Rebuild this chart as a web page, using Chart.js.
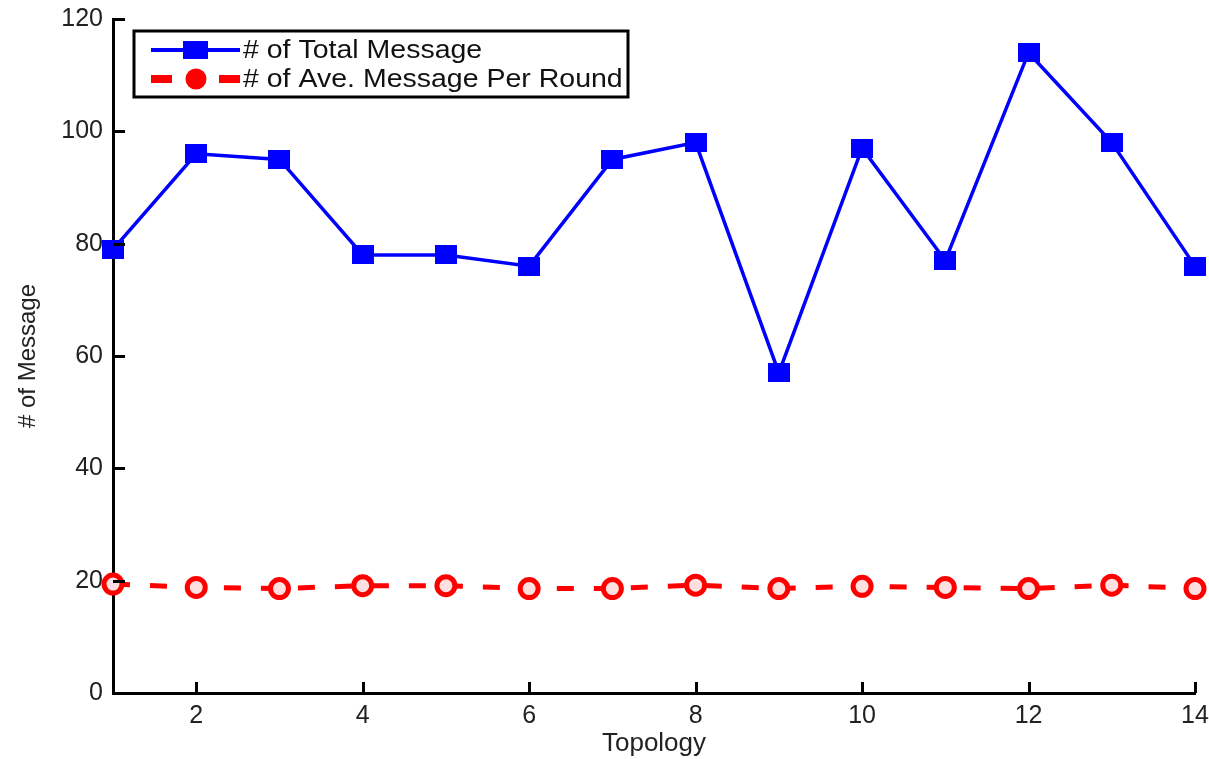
<!DOCTYPE html>
<html>
<head>
<meta charset="utf-8">
<script src="https://cdn.jsdelivr.net/npm/chart.js@4.4.0/dist/chart.umd.min.js"></script>
<style>
  html, body { margin: 0; padding: 0; background: #fff; }
  #wrap { width: 1209px; height: 759px; }
</style>
</head>
<body>
<div id="wrap"><canvas id="chart" width="1209" height="759"></canvas></div>
<script>
// data
const topology = [1, 2, 3, 4, 5, 6, 7, 8, 9, 10, 11, 12, 13, 14];
const totalMsg = [79, 96, 95, 78, 78, 76, 95, 98, 57, 97, 77, 114, 98, 76];
const aveMsg = [19.4, 18.8, 18.6, 19.1, 19.1, 18.6, 18.6, 19.2, 18.6, 19.0, 18.8, 18.6, 19.2, 18.6];
const xTicks = [2, 4, 6, 8, 10, 12, 14];
const yTicks = [0, 20, 40, 60, 80, 100, 120];
const seriesNames = ['# of Total Message', '# of Ave. Message Per Round'];

const FONT = "'Liberation Sans', Arial, sans-serif";

// blue square marker (a bit wider than tall, like the picture)
const sq = document.createElement('canvas');
sq.width = 22; sq.height = 19;
const sctx = sq.getContext('2d');
sctx.fillStyle = '#0000ff';
sctx.fillRect(0, 0, 22, 19);

// inward ticks + legend box
const extras = {
  id: 'extras',
  afterDraw(chart) {
    const ctx = chart.ctx;
    const xs = chart.scales.x, ys = chart.scales.y;
    const a = chart.chartArea;
    ctx.save();
    ctx.strokeStyle = '#000';
    ctx.lineWidth = 3;
    ctx.beginPath();
    yTicks.forEach(v => {
      const py = Math.round(ys.getPixelForValue(v)) + 0.5;
      ctx.moveTo(a.left, py);
      ctx.lineTo(a.left + 12, py);
    });
    xTicks.forEach(v => {
      const px = Math.round(xs.getPixelForValue(v)) + 0.5;
      ctx.moveTo(px, a.bottom);
      ctx.lineTo(px, a.bottom - 11);
    });
    ctx.stroke();

    // legend
    const bx = 134, by = 31, bw = 494, bh = 66;
    ctx.fillStyle = '#fff';
    ctx.fillRect(bx, by, bw, bh);
    ctx.lineWidth = 3;
    ctx.strokeRect(bx, by, bw, bh);

    const rows = [50, 79];
    // row 1: blue line + square
    ctx.strokeStyle = '#0000ff';
    ctx.lineWidth = 4;
    ctx.beginPath();
    ctx.moveTo(151, rows[0]);
    ctx.lineTo(240, rows[0]);
    ctx.stroke();
    ctx.fillStyle = '#0000ff';
    ctx.fillRect(183, rows[0] - 9, 25, 18);
    // row 2: red dashes + dot
    ctx.fillStyle = '#ff0000';
    ctx.fillRect(151, rows[1] - 4, 21, 8);
    ctx.fillRect(219, rows[1] - 4, 21, 8);
    ctx.beginPath();
    ctx.arc(196, rows[1], 10.5, 0, Math.PI * 2);
    ctx.fill();

    ctx.fillStyle = '#111';
    ctx.font = '25px ' + FONT;
    ctx.textBaseline = 'middle';
    seriesNames.forEach((name, i) => {
      ctx.save();
      ctx.translate(243, rows[i] + 1);
      ctx.scale(1.14, 1);
      ctx.fillText(name, 0, 0);
      ctx.restore();
    });
    ctx.restore();
  }
};

new Chart(document.getElementById('chart'), {
  type: 'line',
  data: {
    datasets: [
      {
        label: seriesNames[0],
        data: topology.map((t, i) => ({ x: t, y: totalMsg[i] })),
        borderColor: '#0000ff',
        borderWidth: 3.5,
        pointStyle: sq,
        pointRadius: 10,
        tension: 0,
        clip: false
      },
      {
        label: seriesNames[1],
        data: topology.map((t, i) => ({ x: t, y: aveMsg[i] })),
        borderColor: '#ff0000',
        borderWidth: 5,
        borderDash: [17, 20],
        pointStyle: 'circle',
        pointRadius: 9,
        pointBorderWidth: 5,
        pointBorderColor: '#ff0000',
        pointBackgroundColor: '#ffe0e0',
        tension: 0,
        clip: false
      }
    ]
  },
  options: {
    responsive: false,
    animation: false,
    layout: { padding: { left: 14, top: 19, right: 12, bottom: 0 } },
    plugins: {
      legend: { display: false },
      tooltip: { enabled: false }
    },
    scales: {
      x: {
        type: 'linear',
        min: 1,
        max: 14,
        afterBuildTicks: s => { s.ticks = xTicks.map(v => ({ value: v })); },
        afterFit: s => { s.height = 66; s.paddingLeft = 0; s.paddingRight = 0; },
        grid: { display: false, drawTicks: false },
        border: { display: true, color: '#000', width: 3 },
        ticks: { color: '#222', padding: 8, maxRotation: 0, font: { family: FONT, size: 25 } },
        title: { display: true, text: 'Topology', color: '#222', padding: 0, font: { family: FONT, size: 26 } }
      },
      y: {
        min: 0,
        max: 120,
        afterBuildTicks: s => { s.ticks = yTicks.map(v => ({ value: v })); },
        afterFit: s => { s.width = 99; s.paddingTop = 0; s.paddingBottom = 0; },
        grid: { display: false, drawTicks: false },
        border: { display: true, color: '#000', width: 3 },
        ticks: { color: '#222', padding: 10, font: { family: FONT, size: 25 } },
        title: { display: true, text: '# of Message', color: '#222', padding: 0, font: { family: FONT, size: 24 } }
      }
    }
  },
  plugins: [extras]
});
</script>
</body>
</html>
